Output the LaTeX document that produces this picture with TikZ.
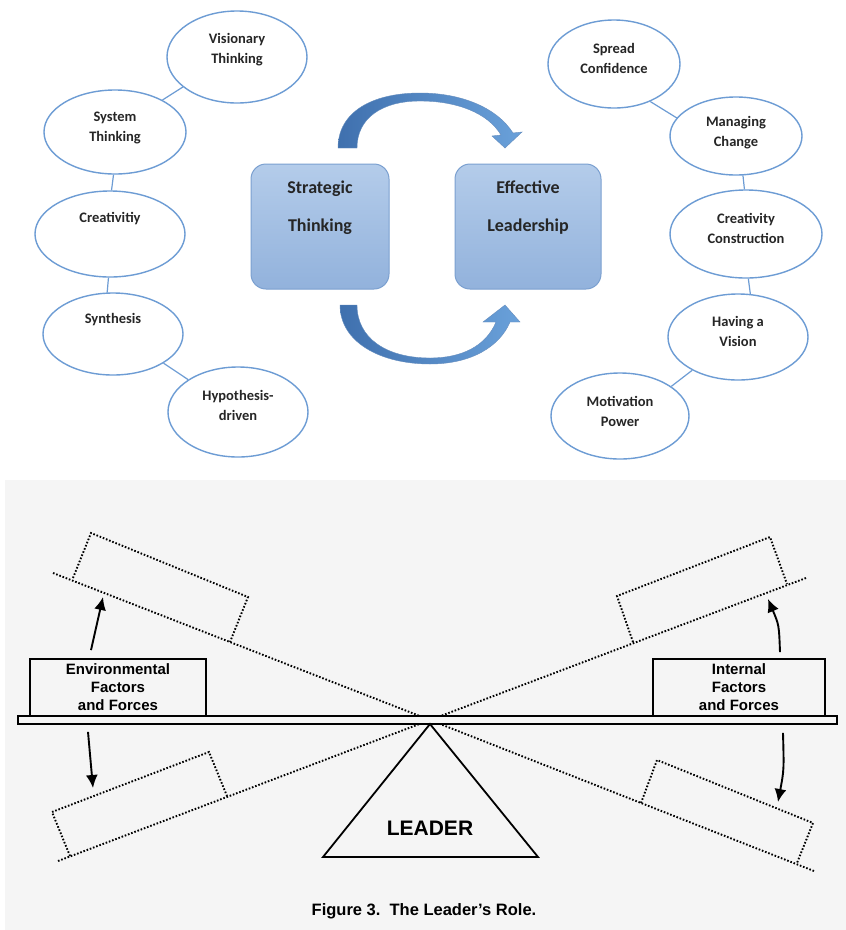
\documentclass[tikz,border=0pt]{standalone}
\usepackage{fontspec}
\setmainfont{Carlito}
\newfontfamily\helv{Liberation Sans}
\usetikzlibrary{shapes.geometric,arrows.meta}

\definecolor{bubbleline}{HTML}{6D9CD4}
\definecolor{boxtop}{HTML}{B4CCEA}
\definecolor{boxbottom}{HTML}{92B2DC}
\definecolor{boxline}{HTML}{7BA0D0}
\definecolor{arrowdark}{HTML}{3F70AE}
\definecolor{arrowlight}{HTML}{6AA1DA}
\definecolor{paper}{HTML}{F5F5F5}

\tikzset{
  bubble/.style={ellipse, draw=bubbleline, line width=1.4pt, inner sep=0pt},
  bubbletext/.style={align=center, text=black!85, font=\bfseries\fontsize{14.5pt}{20pt}\selectfont},
  link/.style={draw=bubbleline, line width=1.2pt},
  thinkbox/.style={rounded corners=15pt, draw=boxline, line width=1pt, top color=boxtop, bottom color=boxbottom},
  boxtext/.style={align=center, text=black!85, font=\bfseries\fontsize{18pt}{38pt}\selectfont},
  turn/.style={left color=arrowdark, right color=arrowlight, draw=arrowdark!80, line width=0.4pt},
  tilt/.style={line width=1.9pt, dash pattern=on 1.6pt off 1.8pt},
  weight/.style={draw, line width=1.8pt, fill=paper, inner sep=0pt, align=center,
    font=\helv\bfseries\fontsize{15pt}{18pt}\selectfont},
  push/.style={->, >={Latex[length=13pt,width=12pt]}, line width=1.9pt}
}

\begin{document}
\begin{tikzpicture}[x=1pt, y=-1pt]
    \useasboundingbox (0,0) rectangle (846,930);
    \fill[white] (0,0) rectangle (846,930);

    % Left bubbles
    \node[bubble, minimum width=140pt, minimum height=92pt] (vis) at (237,57) {};
    \node[bubbletext] (visT) at (237,50) {Visionary\\Thinking};
    \node[bubble, minimum width=142pt, minimum height=84pt] (sys) at (115,132) {};
    \node[bubbletext] (sysT) at (115,128) {System\\Thinking};
    \node[bubble, minimum width=150pt, minimum height=86pt] (cre) at (110,234) {};
    \node[bubbletext] (creT) at (110,219) {Creativitiy};
    \node[bubble, minimum width=140pt, minimum height=82pt] (syn) at (113,334) {};
    \node[bubbletext] (synT) at (113,320) {Synthesis};
    \node[bubble, minimum width=140pt, minimum height=90pt] (hyp) at (238,412) {};
    \node[bubbletext] (hypT) at (238,405) {Hypothesis-\\driven};

    \draw[link] (vis.-151) -- (sys.34);
    \draw[link] (sys.-92) -- (cre.88);
    \draw[link] (cre.-92) -- (syn.98);
    \draw[link] (syn.-30) -- (hyp.147);

    % Right bubbles
    \node[bubble, minimum width=132pt, minimum height=88pt] (spr) at (614,64) {};
    \node[bubbletext] (sprT) at (614,58) {Spread\\Confidence};
    \node[bubble, minimum width=132pt, minimum height=78pt] (man) at (736,136) {};
    \node[bubbletext] (manT) at (736,133) {Managing\\Change};
    \node[bubble, minimum width=152pt, minimum height=88pt] (con) at (746,234) {};
    \node[bubbletext] (conT) at (746,228) {Creativity\\Construction};
    \node[bubble, minimum width=140pt, minimum height=86pt] (hav) at (738,337) {};
    \node[bubbletext] (havT) at (738,331) {Having a\\Vision};
    \node[bubble, minimum width=138pt, minimum height=86pt] (mot) at (620,416) {};
    \node[bubbletext] (motT) at (620,411) {Motivation\\Power};

    \draw[link] (spr.-46) -- (man.163);
    \draw[link] (man.-80) -- (con.92);
    \draw[link] (con.-87) -- (hav.74);
    \draw[link] (hav.-144) -- (mot.30);

    % Centre boxes
    \node[thinkbox, minimum width=138pt, minimum height=125pt] (stra) at (320,226.5) {};
    \node[boxtext] (straT) at (320,208) {Strategic\\Thinking};
    \node[thinkbox, minimum width=146pt, minimum height=125pt] (eff) at (528,226.5) {};
    \node[boxtext] (effT) at (528,208) {Effective\\Leadership};

    % Curved arrows
    \shadedraw[turn] (338,148) .. controls (338,112) and (372,93) .. (420,93)
        .. controls (462,93) and (497,108) .. (513,133)
        -- (522,132) -- (505,148) -- (492,136) -- (501,135)
        .. controls (488,113) and (457,101) .. (420,101)
        .. controls (382,101) and (357,118) .. (357,148) -- cycle;
    \shadedraw[turn] (340,305) .. controls (340,342) and (380,364) .. (430,364)
        .. controls (472,364) and (500,346) .. (510,322)
        -- (520,322) -- (505,305) -- (483,322) -- (496,322)
        .. controls (486,346) and (462,358) .. (430,358)
        .. controls (386,358) and (357,338) .. (357,305) -- cycle;

    % Lower panel
    \fill[paper] (5,480) rectangle (846,930);

    % Tilted beams (dotted)
    \draw[tilt] (53,573) -- (430,720);
    \draw[tilt] (73,578) -- (91,533) -- (248,597) -- (230,642);
    \draw[tilt] (58,861) -- (430,720);
    \draw[tilt] (70,856) -- (52,812) -- (209,752) -- (227,796);
    \draw[tilt] (806,578) -- (430,720);
    \draw[tilt] (633,642) -- (617,596) -- (770,537) -- (787,584);
    \draw[tilt] (814,871) -- (430,720);
    \draw[tilt] (641,803) -- (657,760) -- (813,823) -- (797,863);

    % Beam and fulcrum
    \draw[line width=1.8pt, fill=paper] (18,716) rectangle (837,724);
    \draw[line width=1.8pt, fill=paper] (430,724) -- (323,857) -- (538,857) -- cycle;
    \node[font=\helv\bfseries\fontsize{21pt}{25pt}\selectfont] (leader) at (430,828) {LEADER};

    % Weights
    \node[weight, minimum width=176pt, minimum height=57pt] (envbox) at (118,687.5) {Environmental\\Factors\\and Forces};
    \node[weight, minimum width=172pt, minimum height=57pt] (intbox) at (739,687.5) {Internal\\Factors\\and Forces};

    % Arrows
    \coordinate (envUp) at (103,597);
    \coordinate (envDown) at (93,788);
    \coordinate (intUp) at (768,599);
    \coordinate (intDown) at (778,802);
    \draw[push] ([xshift=-27pt,yshift=8pt]envbox.north) -- (envUp);
    \draw[push] ([xshift=-30pt,yshift=-15pt]envbox.south) -- (envDown);
    \draw[push] ([xshift=41pt,yshift=6pt]intbox.north) .. controls (779,625) .. (intUp);
    \draw[push] ([xshift=44pt,yshift=-16pt]intbox.south) .. controls (784,770) .. (intDown);

    % Caption
    \node[font=\helv\bfseries\fontsize{16.5pt}{20pt}\selectfont] (caption) at (424,911) {Figure 3.\ \ The Leader’s Role.};
\end{tikzpicture}
\end{document}
